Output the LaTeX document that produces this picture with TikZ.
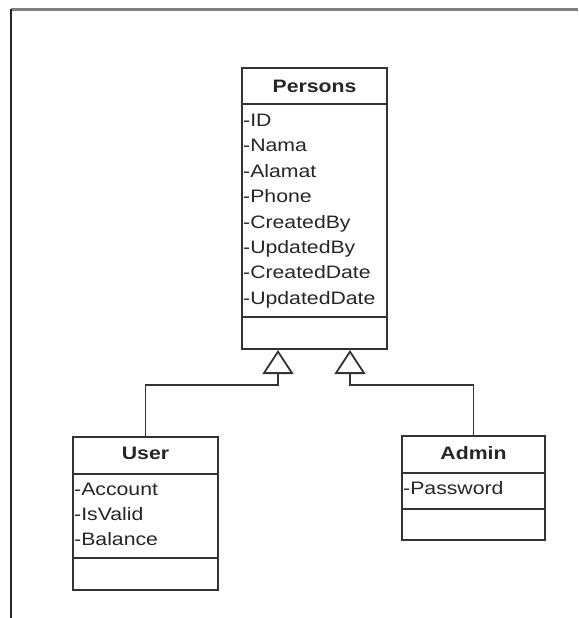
\documentclass[tikz,border=0pt]{standalone}
\usepackage{fontspec}
\setmainfont{Liberation Sans}[FakeStretch=1.18]
\usetikzlibrary{arrows.meta}
\tikzset{
  umlbox/.style={draw=black!80, line width=2pt, fill=white, inner sep=0pt, rectangle},
  title/.style={font=\fontsize{18}{22}\selectfont\bfseries, text=black!85, inner sep=0pt},
  attr/.style={font=\fontsize{18}{22}\selectfont, text=black!85, inner sep=0pt, anchor=base west},
  sepline/.style={draw=black!80, line width=2pt},
  inherit/.style={draw=black!80, line width=1.8pt, -{Triangle[open, length=24pt, width=31pt]}},
  framegray/.style={draw=black!50, line width=3pt},
  framedark/.style={draw=black!85, line width=2pt}
}
\begin{document}
\begin{tikzpicture}[x=1pt,y=-1pt]
\useasboundingbox (0,0) rectangle (578,618);
\fill[white] (0,0) rectangle (578,618);
% frame
\coordinate (ftl) at (10.5,9.5);
\coordinate (ftr) at (578,9.5);
\coordinate (fbl) at (10.5,618);
\draw[framegray] (ftl) -- (ftr);
\draw[framedark] (ftl) -- (fbl);

% boxes
\node[umlbox, minimum width=145pt, minimum height=281pt] (persons) at (314.5,208.5) {};
\node[umlbox, minimum width=145pt, minimum height=153pt] (user) at (145.5,513.5) {};
\node[umlbox, minimum width=143pt, minimum height=104pt] (admin) at (473.5,488) {};

% persons compartments
\draw[sepline] ([yshift=-37pt]persons.north west) -- ([yshift=-37pt]persons.north east);
\draw[sepline] ([yshift=33pt]persons.south west) -- ([yshift=33pt]persons.south east);
\node[title] (ptitle) at (314.5,86.5) {Persons};
\foreach \t [count=\i] in {ID,Nama,Alamat,Phone,CreatedBy,UpdatedBy,CreatedDate,UpdatedDate}
  \node[attr] (pa\i) at (243,{126.5+25.4*(\i-1)}) {-\t};

% user compartments
\draw[sepline] ([yshift=-38pt]user.north west) -- ([yshift=-38pt]user.north east);
\draw[sepline] ([yshift=33pt]user.south west) -- ([yshift=33pt]user.south east);
\node[title] (utitle) at (145.5,453) {User};
\foreach \t [count=\i] in {Account,IsValid,Balance}
  \node[attr] (ua\i) at (74,{495.5+25*(\i-1)}) {-\t};

% admin compartments
\draw[sepline] ([yshift=-38pt]admin.north west) -- ([yshift=-38pt]admin.north east);
\draw[sepline] ([yshift=32pt]admin.south west) -- ([yshift=32pt]admin.south east);
\node[title] (atitle) at (473.5,453) {Admin};
\node[attr] (aa1) at (403,494.5) {-Password};

% inheritance connectors
\draw[inherit] (user.north) |- ([xshift=-36.5pt,yshift=-35pt]persons.south) -- ([xshift=-36.5pt]persons.south);
\draw[inherit] (admin.north) |- ([xshift=35.5pt,yshift=-35pt]persons.south) -- ([xshift=35.5pt]persons.south);
\end{tikzpicture}
\end{document}
